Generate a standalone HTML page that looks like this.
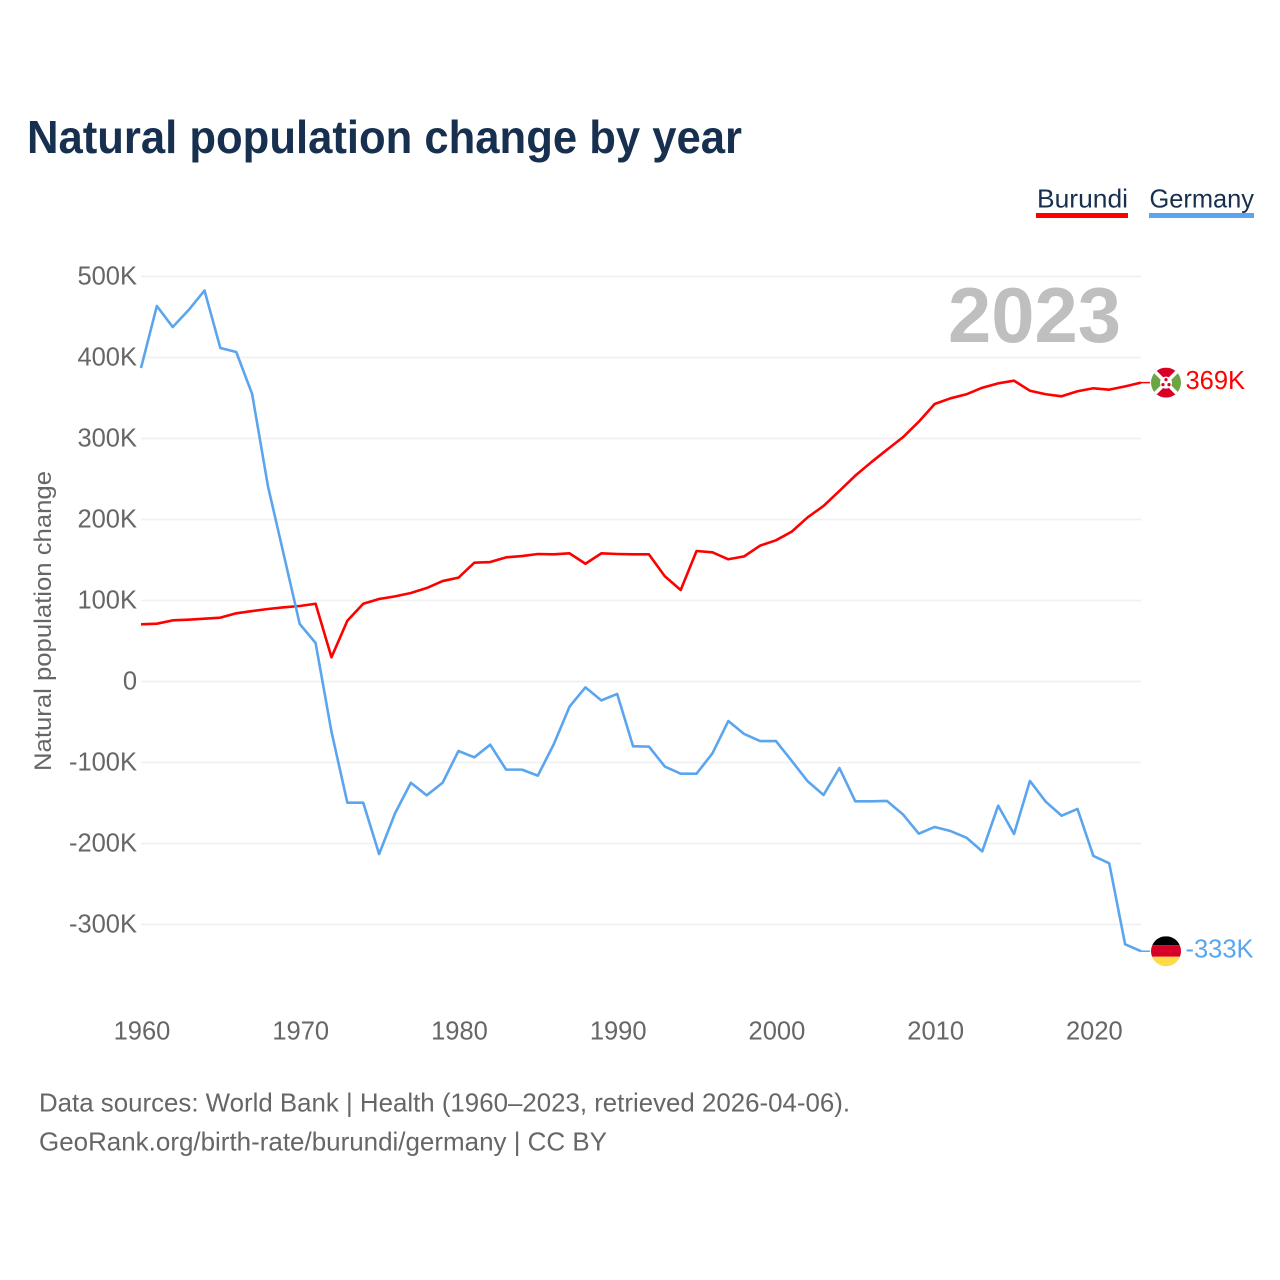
<!DOCTYPE html>
<html lang="en">
<head>
<meta charset="utf-8">
<title>Natural population change by year</title>
<style>
html,body{margin:0;padding:0;background:#fff;}
#chart{display:block;width:1280px;height:1280px;font-family:"Liberation Sans",sans-serif;}
</style>
</head>
<body>
<svg id="chart" xmlns="http://www.w3.org/2000/svg" width="1280" height="1280" viewBox="0 0 1280 1280">
  <defs>
    <clipPath id="flag-clip"><circle cx="0" cy="0" r="15"/></clipPath>
  </defs>
  <rect width="1280" height="1280" fill="#fff"/>
  <text x="27" y="153" font-size="46" font-weight="700" fill="#17304f" textLength="715" lengthAdjust="spacingAndGlyphs">Natural population change by year</text>

  <g>
    <g>
      <text x="1037" y="207.5" font-size="26" fill="#17304f" textLength="91" lengthAdjust="spacingAndGlyphs">Burundi</text>
      <rect x="1036" y="213" width="92" height="5" fill="#ff0000"/>
    </g>
    <g>
      <text x="1149.5" y="207.5" font-size="26" fill="#17304f" textLength="104.5" lengthAdjust="spacingAndGlyphs">Germany</text>
      <rect x="1149" y="213" width="105" height="5" fill="#5aa5ee"/>
    </g>
  </g>

  <g id="grid"></g>
  <g id="y-ticks"></g>
  <g id="x-ticks"></g>

  <text transform="translate(51,621) rotate(-90)" text-anchor="middle" font-size="24" fill="#666666" textLength="300" lengthAdjust="spacingAndGlyphs">Natural population change</text>
  <text x="948" y="342" font-size="78" font-weight="700" fill="#bfbfbf" textLength="173" lengthAdjust="spacingAndGlyphs">2023</text>

  <g id="series"></g>

  <g id="end-burundi">
    <g clip-path="url(#flag-clip)">
      <circle cx="0" cy="0" r="15" fill="#ffffff"/>
      <polygon points="-15,-15 15,-15 0,0" fill="#d80027"/>
      <polygon points="-15,15 15,15 0,0" fill="#d80027"/>
      <polygon points="-15,-15 -15,15 0,0" fill="#6da544"/>
      <polygon points="15,-15 15,15 0,0" fill="#6da544"/>
      <line x1="-15" y1="-15" x2="15" y2="15" stroke="#fff" stroke-width="3.5"/>
      <line x1="15" y1="-15" x2="-15" y2="15" stroke="#fff" stroke-width="3.5"/>
      <circle cx="0" cy="0" r="6" fill="#fff"/>
      <circle cx="0" cy="-3" r="1.6" fill="#d80027"/>
      <circle cx="-3" cy="2" r="1.6" fill="#d80027"/>
      <circle cx="3" cy="2" r="1.6" fill="#d80027"/>
    </g>
  </g>
  <g id="end-germany">
    <g clip-path="url(#flag-clip)">
      <rect x="-15" y="-15" width="30" height="9" fill="#000000"/>
      <rect x="-15" y="-6" width="30" height="11.5" fill="#d80027"/>
      <rect x="-15" y="5.5" width="30" height="10" fill="#ffda44"/>
    </g>
  </g>

  <g>
    <text x="39" y="1111.5" font-size="26" fill="#666666" textLength="811" lengthAdjust="spacingAndGlyphs">Data sources: World Bank | Health (1960–2023, retrieved 2026-04-06).</text>
    <text x="39" y="1150.5" font-size="26" fill="#666666" textLength="568" lengthAdjust="spacingAndGlyphs">GeoRank.org/birth-rate/burundi/germany | CC BY</text>
  </g>
</svg>
<script>
const startYear = 1960;
const burundiValues = [70.6,71.4,75.5,76.3,77.5,78.8,84.2,87,89.5,91.6,93.2,96,29.9,75,96,101.9,105.1,109.3,115.4,124,128.2,146.7,147.5,153.3,154.9,157.4,157,158.2,145.4,158.2,157.4,157,157,129.9,113,161.1,159.5,150.9,154.5,167.7,174.3,185,202.7,216.7,235.2,254.1,270.6,286.2,301.5,320.7,342.6,349.6,354.6,362.7,368.1,371.4,359,354.6,352.1,358.3,362,360.3,364.4,369];
const germanyValues = [387,463.6,437.6,458.6,482.7,411.7,406.8,355,241,156,71,47.5,-62,-149.6,-149.6,-213,-163,-125,-140.5,-125,-85.8,-93.6,-78,-108.8,-108.8,-116.2,-77.6,-31,-7.2,-23.3,-15.4,-80,-80.4,-105,-113.8,-113.8,-88.7,-48.8,-64.8,-73.5,-73.5,-98.1,-123.2,-140.1,-106.8,-147.9,-147.9,-147.5,-164,-187.9,-179.6,-184.6,-192.8,-209.7,-153.3,-188.3,-122.8,-148.4,-165.7,-157.4,-215.4,-224.5,-324.5,-333];
const yTickValues = [500,400,300,200,100,0,-100,-200,-300];
const xTickYears = [1960,1970,1980,1990,2000,2010,2020];

const SVG_NS = 'http://www.w3.org/2000/svg';
const plot = {left:141,right:1141,zeroY:681.5,pxPerK:0.81,lastYear:2023};
function xScale(year){
  return plot.left + (year - startYear) * (plot.right - plot.left) / (plot.lastYear - startYear);
}
function yScale(v){
  return plot.zeroY - v * plot.pxPerK;
}
function formatK(v){
  const r = Math.round(v);
  return r === 0 ? '0' : r + 'K';
}
function make(tag, attrs, parent){
  const el = document.createElementNS(SVG_NS, tag);
  for (const k in attrs) el.setAttribute(k, attrs[k]);
  parent.appendChild(el);
  return el;
}

const gridGroup = document.getElementById('grid');
const yTickGroup = document.getElementById('y-ticks');
yTickValues.forEach(function(v){
  const line = make('line',{x1:plot.left,x2:plot.right,y1:yScale(v),y2:yScale(v),stroke:'#f0f0f0','stroke-width':1.8},gridGroup);
  
  
  const label = make('text',{x:137,y:yScale(v)+8,'text-anchor':'end','font-size':25.5,fill:'#666666'},yTickGroup);
  
  
  label.textContent = formatK(v);
});

const xTickGroup = document.getElementById('x-ticks');
xTickYears.forEach(function(year){
  const label = make('text',{x:xScale(year)+1,y:1039.5,'text-anchor':'middle','font-size':25.5,fill:'#666666'},xTickGroup);
  
  
  label.textContent = String(year);
});

function linePoints(values){
  return values.map(function(v,i){
    return xScale(startYear + i).toFixed(2) + ',' + yScale(v).toFixed(2);
  }).join(' ');
}
const seriesGroup = document.getElementById('series');

const burundiLine = make('polyline',{points:linePoints(burundiValues),fill:'none',stroke:'#ff0000','stroke-width':2.6,'stroke-linejoin':'round'},seriesGroup);



const germanyLine = make('polyline',{points:linePoints(germanyValues),fill:'none',stroke:'#5aa5ee','stroke-width':2.6,'stroke-linejoin':'round'},seriesGroup);



function placeEnd(groupId, value, color){
  const group = document.getElementById(groupId);
  const cy = yScale(value);
  group.firstElementChild.setAttribute('transform','translate(1166,' + cy + ')');
  const connector = make('line',{x1:plot.right,y1:cy,x2:1150,y2:cy,stroke:color,'stroke-width':1.5},group);
  
  
  const label = make('text',{x:1185.5,y:cy+6.5,'font-size':25.5,fill:color},group);
  
  
  label.textContent = formatK(value);
}
placeEnd('end-burundi', burundiValues[burundiValues.length-1], '#ff0000');
placeEnd('end-germany', germanyValues[germanyValues.length-1], '#5aa5ee');
</script>
</body>
</html>
